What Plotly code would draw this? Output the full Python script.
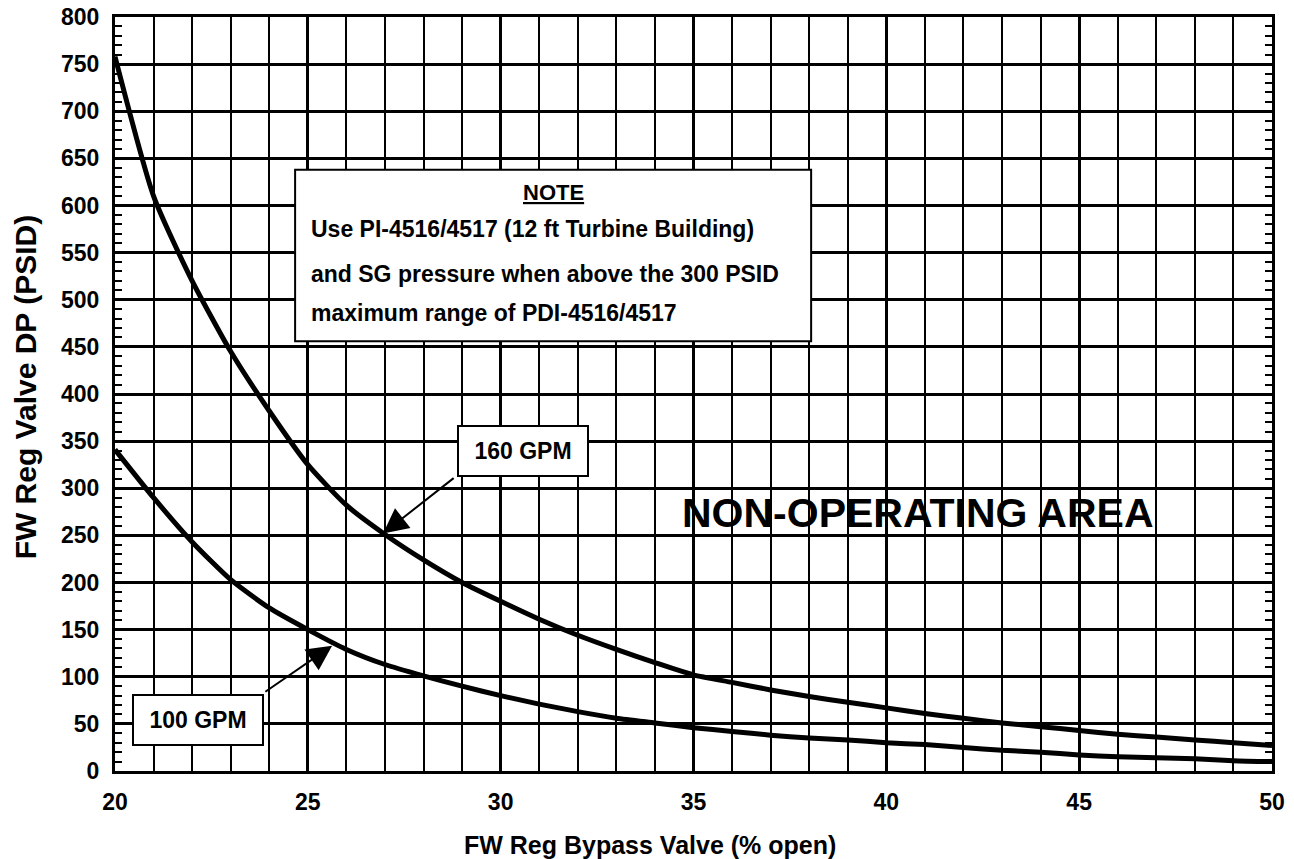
import plotly.graph_objects as go

# ---- data ----
valve_open_pct = [20, 21, 22, 23, 24, 25, 26, 27, 28, 29, 30, 31, 32, 33, 34, 35,
                  36, 37, 38, 39, 40, 41, 42, 43, 44, 45, 46, 47, 48, 49, 50]
dp_160_gpm = [758, 610, 520, 445, 382, 325, 282, 251, 224, 200, 180, 161, 144, 129,
              115, 102, 94, 86, 79, 73, 67, 61, 56, 51, 47, 43, 39, 36, 33, 30, 27]
dp_100_gpm = [341, 290, 243, 203, 173, 150, 129, 113, 101, 90, 80, 71, 63, 56, 51,
              46, 42, 38, 35, 33, 30, 28, 25, 22, 20, 17, 15, 14, 13, 11, 10]

x_ticks = [20, 25, 30, 35, 40, 45, 50]
y_ticks = list(range(0, 801, 50))

note_lines = [
    "Use PI-4516/4517 (12 ft Turbine Building)",
    "and SG pressure when above the 300 PSID",
    "maximum range of PDI-4516/4517",
]

FONT = "Liberation Sans, Arial, sans-serif"

fig = go.Figure()
for ys in (dp_160_gpm, dp_100_gpm):
    fig.add_trace(go.Scatter(x=valve_open_pct, y=ys, mode="lines",
                             line=dict(color="black", width=5, shape="spline", smoothing=0.6),
                             hoverinfo="skip", showlegend=False))

fig.update_layout(
    width=1294, height=859,
    margin=dict(l=115, r=22, t=17, b=88),
    paper_bgcolor="white", plot_bgcolor="white",
    showlegend=False,
    font=dict(family=FONT, color="black"),
)

fig.update_xaxes(
    range=[20, 50], tickvals=x_ticks, ticks="", automargin=False,
    showgrid=True, gridcolor="black", gridwidth=3,
    minor=dict(dtick=1, showgrid=True, gridcolor="black", gridwidth=2.2, ticks=""),
    showline=True, linecolor="black", linewidth=3, mirror=True,
    zeroline=False,
    tickfont=dict(family=FONT, size=23, weight="bold"),
    ticklabelstandoff=8,
)
fig.update_yaxes(
    range=[0, 800], tickvals=y_ticks, ticks="inside", ticklen=7, tickwidth=2, tickcolor="black",
    automargin=False,
    showgrid=True, gridcolor="black", gridwidth=2.6,
    minor=dict(dtick=10, ticks="inside", ticklen=7, tickwidth=2, tickcolor="black", showgrid=False),
    showline=True, linecolor="black", linewidth=3, mirror="ticks",
    zeroline=False,
    tickfont=dict(family=FONT, size=23, weight="bold"),
    ticklabelstandoff=8,
)

# axis titles (placed as in the reference, slightly off-centre)
fig.add_annotation(x=0.462, y=-0.098, xref="paper", yref="paper", xanchor="center", yanchor="middle",
                   text="<b>FW Reg Bypass Valve (% open)</b>", showarrow=False,
                   font=dict(family=FONT, size=25, color="black"))
fig.add_annotation(x=-0.077, y=0.51, xref="paper", yref="paper", xanchor="center", yanchor="middle",
                   text="<b>FW Reg Valve DP (PSID)</b>", showarrow=False, textangle=-90,
                   font=dict(family=FONT, size=30, color="black"))

# NOTE box
fig.add_shape(type="rect", xref="x", yref="y", x0=24.67, x1=38.05, y0=456, y1=638,
              fillcolor="white", line=dict(color="black", width=2), layer="above")
fig.add_annotation(x=31.36, y=614, xref="x", yref="y", text="<b><u>NOTE</u></b>",
                   showarrow=False, font=dict(family=FONT, size=22, color="black"))
for txt, yy in zip(note_lines, [575, 527, 486]):
    fig.add_annotation(x=25.03, y=yy, xref="x", yref="y", text="<b>" + txt + "</b>", xanchor="left",
                       showarrow=False, font=dict(family=FONT, size=23, color="black"))

# curve labels
fig.add_annotation(x=30.58, y=340, xref="x", yref="y", text="<b>160 GPM</b>", showarrow=False,
                   font=dict(family=FONT, size=23, color="black"),
                   bgcolor="white", bordercolor="black", borderwidth=2,
                   width=126, height=46, borderpad=1)
fig.add_annotation(x=22.15, y=54, xref="x", yref="y", text="<b>100 GPM</b>", showarrow=False,
                   font=dict(family=FONT, size=23, color="black"),
                   bgcolor="white", bordercolor="black", borderwidth=2,
                   width=126, height=46, borderpad=1)

# arrows
fig.add_annotation(x=26.95, y=252, ax=28.82, ay=312, xref="x", yref="y", axref="x", ayref="y",
                   text="", showarrow=True, arrowhead=2, arrowsize=2.5, arrowwidth=2,
                   arrowcolor="black", standoff=0)
fig.add_annotation(x=25.63, y=133, ax=23.86, ay=83, xref="x", yref="y", axref="x", ayref="y",
                   text="", showarrow=True, arrowhead=2, arrowsize=2.5, arrowwidth=2,
                   arrowcolor="black", standoff=0)

fig.add_annotation(x=40.82, y=274, xref="x", yref="y", text="<b>NON-OPERATING AREA</b>",
                   showarrow=False, font=dict(family=FONT, size=41, color="black"))

fig.write_html("out.html", config={"displayModeBar": False},
               post_script="document.body.style.margin='0';")
